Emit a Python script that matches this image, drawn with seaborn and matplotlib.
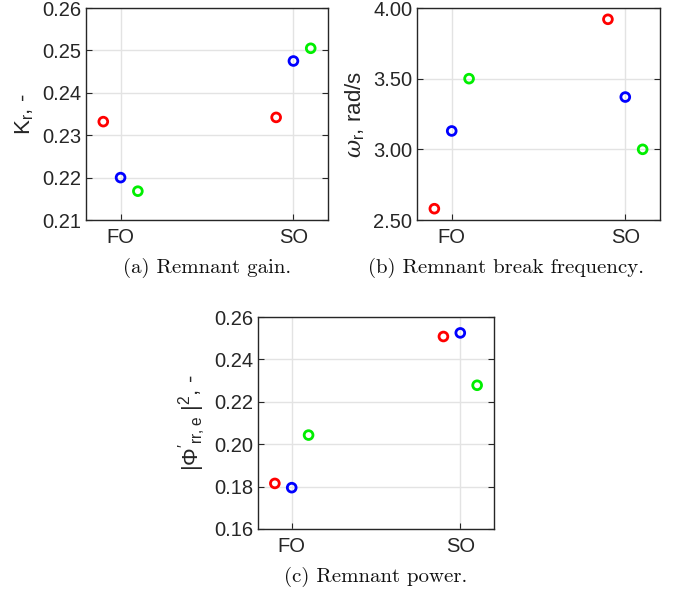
import numpy as np
import pandas as pd
import matplotlib
matplotlib.use("Agg")
import matplotlib.pyplot as plt
import seaborn as sns

categories = ["FO", "SO"]
series = ["red", "blue", "green"]
gain_red = [0.2332, 0.2342]
gain_blue = [0.2200, 0.2475]
gain_green = [0.2168, 0.2505]
freq_red = [2.58, 3.92]
freq_blue = [3.13, 3.37]
freq_green = [3.50, 3.00]
power_red = [0.1815, 0.2508]
power_blue = [0.1795, 0.2525]
power_green = [0.2043, 0.2278]

sns.set_theme(style="white")
plt.rcParams['font.family'] = ['Liberation Sans', 'DejaVu Sans']
plt.rcParams['mathtext.fontset'] = 'custom'
plt.rcParams['mathtext.rm'] = 'Liberation Sans'
plt.rcParams['mathtext.it'] = 'DejaVu Serif:italic'

palette = {"red": "#ff0000", "blue": "#0000ff", "green": "#00ee00"}
dodge = {"red": -0.1, "blue": 0.0, "green": 0.1}

def make_df(r, b, g):
    rows = []
    for name, vals in zip(series, [r, b, g]):
        for i, v in enumerate(vals):
            rows.append({"x": i + 1 + dodge[name], "y": v, "s": name})
    return pd.DataFrame(rows)

fig = plt.figure(figsize=(6.78, 5.94), dpi=100)
W, H = 678, 594
def add_ax(l, t, r, b):
    return fig.add_axes([l / W, 1 - b / H, (r - l) / W, (b - t) / H])

panels = [
    (add_ax(86, 8, 328, 220), make_df(gain_red, gain_blue, gain_green),
     (0.21, 0.26), np.arange(0.21, 0.2601, 0.01), "{:.2f}", r"K$_\mathregular{r}$, -",
     "(a) Remnant gain.", (207, 268)),
    (add_ax(417, 8, 660, 220), make_df(freq_red, freq_blue, freq_green),
     (2.5, 4.0), np.arange(2.5, 4.01, 0.5), "{:.2f}", r"$\omega_\mathregular{r}$, rad/s",
     "(b) Remnant break frequency.", (506, 268)),
    (add_ax(258, 317, 494, 529), make_df(power_red, power_blue, power_green),
     (0.16, 0.26), np.arange(0.16, 0.2601, 0.02), "{:.2f}",
     r"|$\mathregular{\Phi'_{rr,e}}$ |$^\mathregular{2}$, -",
     "(c) Remnant power.", (376, 577)),
]

for ax, df, ylim, yt, fmt, ylabel, cap, cpos in panels:
    sns.scatterplot(data=df, x="x", y="y", hue="s", palette=palette, ax=ax,
                    marker="o", s=40, linewidth=2.0, legend=False, zorder=3)
    for coll in ax.collections:
        fc = coll.get_facecolors()
        coll.set_edgecolors(fc)
        coll.set_facecolor("none")
    ax.set_xlim(0.8, 2.2)
    ax.set_ylim(*ylim)
    ax.set_xticks([1, 2])
    ax.set_xticklabels(categories)
    ax.set_yticks(yt)
    ax.set_yticklabels([fmt.format(v) for v in yt])
    ax.set_xlabel("")
    ax.set_ylabel(ylabel, fontsize=16, color="#262626", labelpad=4)
    ax.grid(True, color="#e3e3e3", linewidth=1.0)
    ax.set_axisbelow(True)
    for sp in ax.spines.values():
        sp.set_color("#262626")
        sp.set_linewidth(1.0)
    ax.tick_params(axis="both", direction="in", length=4, width=0.8, color="#262626",
                   labelsize=14.5, labelcolor="#262626", right=True, top=False, left=True, bottom=True)
    ax.tick_params(axis="x", pad=6)
    fig.text(cpos[0] / W, 1 - cpos[1] / H, cap, ha="center", va="center",
             fontsize=15, family=["cmr10", "DejaVu Serif"], color="#111111")

fig.savefig("out.png", dpi=100)
